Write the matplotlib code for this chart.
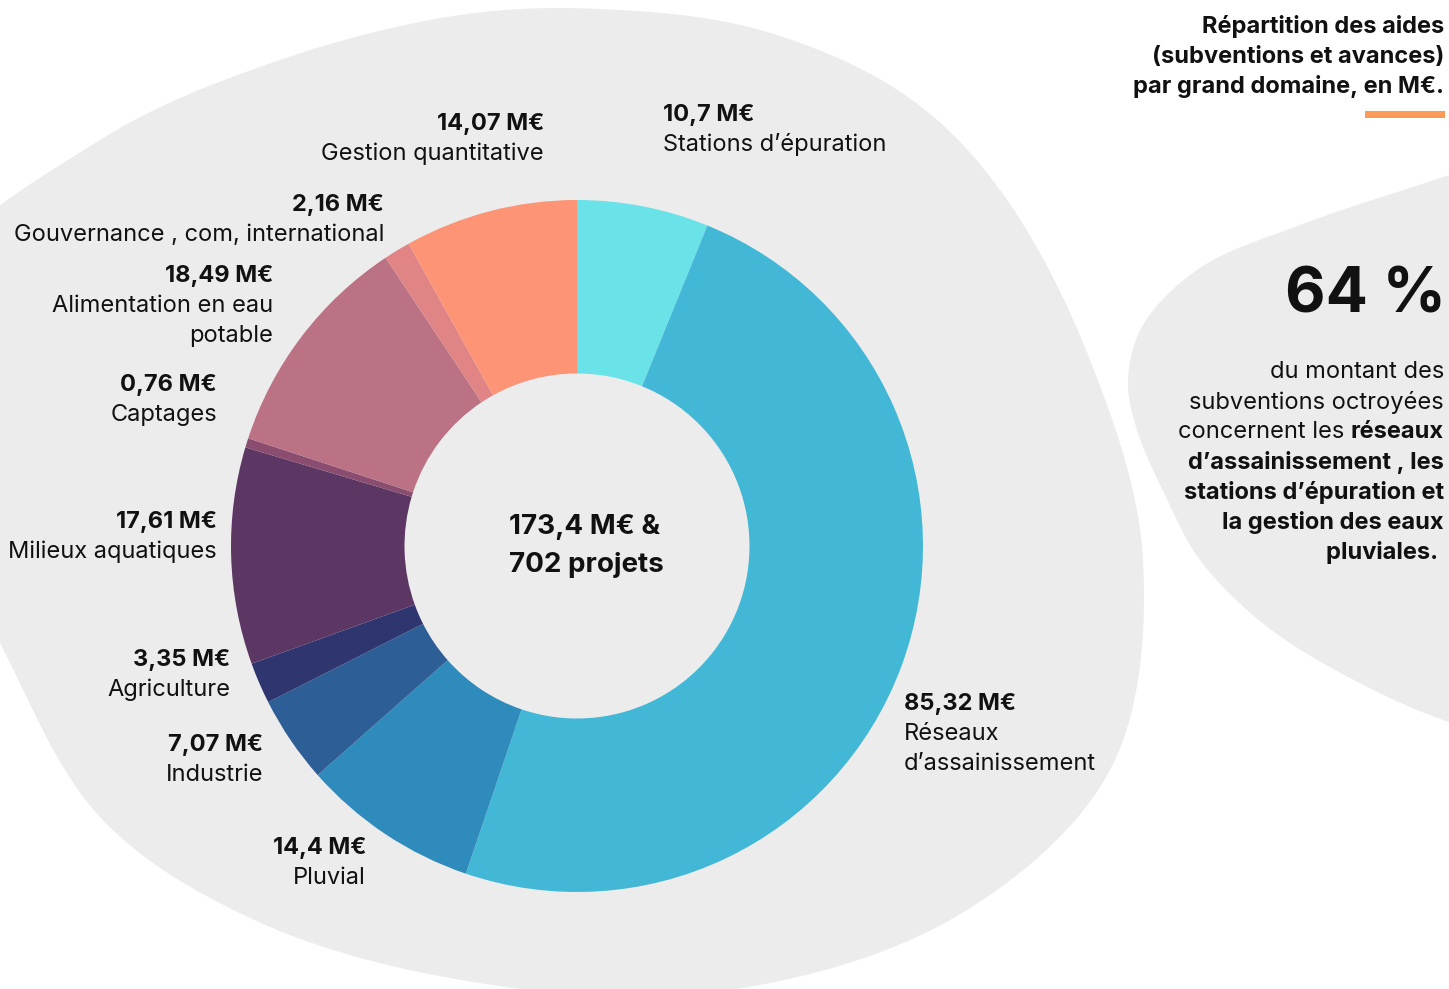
import numpy as np
import matplotlib
matplotlib.use("Agg")
import matplotlib.pyplot as plt
from matplotlib.patches import PathPatch, Rectangle
from matplotlib.path import Path

# ---------------- data ----------------
categories = ["Stations d’épuration", "Réseaux d’assainissement", "Pluvial", "Industrie",
              "Agriculture", "Milieux aquatiques", "Captages", "Alimentation en eau potable",
              "Gouvernance , com, international", "Gestion quantitative"]
values = [10.7, 85.32, 14.4, 7.07, 3.35, 17.61, 0.76, 18.49, 2.16, 14.07]
value_labels = ["10,7 M€", "85,32 M€", "14,4 M€", "7,07 M€", "3,35 M€", "17,61 M€",
                "0,76 M€", "18,49 M€", "2,16 M€", "14,07 M€"]
name_lines = [["Stations d’épuration"], ["Réseaux", "d’assainissement"], ["Pluvial"],
              ["Industrie"], ["Agriculture"], ["Milieux aquatiques"], ["Captages"],
              ["Alimentation en eau", "potable"], ["Gouvernance , com, international"],
              ["Gestion quantitative"]]
colors = ["#6ae3e8", "#42b7d6", "#2e8bbb", "#2e5e96", "#2f356f", "#5d3764",
          "#8a4d70", "#bb7284", "#e08486", "#fd9476"]
center_text = ["173,4 M€ &", "702 projets"]
title_lines = ["Répartition des aides", "(subventions et avances)", "par grand domaine, en M€."]
big_number = "64 %"

W, H = 1449, 989
FONT = "Inter"
INK = "#111111"
GREY = "#ececec"

fig = plt.figure(figsize=(W / 100, H / 100), dpi=100)
ax = fig.add_axes([0, 0, 1, 1])


def Y(y):
    return H - y


def smooth_closed(pts, n=60, alpha=0.5):
    """Centripetal Catmull-Rom closed curve through pts (pixel coords, y down)."""
    P = np.array(pts, dtype=float)
    m = len(P)
    out = []
    for i in range(m):
        p0, p1, p2, p3 = P[(i - 1) % m], P[i], P[(i + 1) % m], P[(i + 2) % m]
        t0 = 0.0
        t1 = t0 + np.linalg.norm(p1 - p0) ** alpha
        t2 = t1 + np.linalg.norm(p2 - p1) ** alpha
        t3 = t2 + np.linalg.norm(p3 - p2) ** alpha
        t = np.linspace(t1, t2, n, endpoint=False)[:, None]
        A1 = (t1 - t) / (t1 - t0) * p0 + (t - t0) / (t1 - t0) * p1
        A2 = (t2 - t) / (t2 - t1) * p1 + (t - t1) / (t2 - t1) * p2
        A3 = (t3 - t) / (t3 - t2) * p2 + (t - t2) / (t3 - t2) * p3
        B1 = (t2 - t) / (t2 - t0) * A1 + (t - t0) / (t2 - t0) * A2
        B2 = (t3 - t) / (t3 - t1) * A2 + (t - t1) / (t3 - t1) * A3
        C = (t2 - t) / (t2 - t1) * B1 + (t - t1) / (t2 - t1) * B2
        out.append(C)
    out = np.vstack(out)
    out[:, 1] = H - out[:, 1]
    return out


main_blob = [(-90, 300), (100, 140), (280, 60), (460, 15), (600, 9), (760, 30), (905, 95),
             (1000, 190), (1090, 360), (1143, 560), (1110, 770), (950, 920), (700, 994),
             (450, 978), (250, 918), (100, 817), (0, 643), (-80, 470)]
right_blob = [(1520, 150), (1449, 175), (1300, 225), (1200, 268), (1143, 325), (1128, 380),
              (1137, 430), (1165, 495), (1200, 560), (1265, 625), (1350, 678), (1449, 722),
              (1530, 740), (1560, 450)]
for blob in (main_blob, right_blob):
    v = smooth_closed(blob)
    ax.add_patch(PathPatch(Path(np.vstack([v, v[:1]]), closed=True), fc=GREY, ec="none", zorder=0))

# ---------------- donut ----------------
cx, cy, R = 577, 546, 346
ax.pie(values, colors=colors, startangle=90, counterclock=False, center=(cx, Y(cy)),
       radius=R, wedgeprops=dict(width=R - 172.5, edgecolor="none", linewidth=0), frame=True)
ax.set_xlim(0, W)
ax.set_ylim(0, H)
ax.set_aspect("auto")
ax.axis("off")

# ---------------- labels ----------------
FS = 17
label_pos = [(663, 115, "left"), (904, 704, "left"), (366, 848, "right"), (263, 745, "right"),
             (230, 660, "right"), (217, 522, "right"), (217, 385, "right"), (273, 276, "right"),
             (384, 205, "right"), (544, 124, "right")]
for (x, y, ha), vl, names in zip(label_pos, value_labels, name_lines):
    ax.text(x, Y(y), vl, ha=ha, va="center", fontsize=FS, fontweight="bold", family=FONT, color=INK)
    for k, nm in enumerate(names):
        ax.text(x, Y(y + 30 * (k + 1)), nm, ha=ha, va="center", fontsize=FS, family=FONT, color=INK)

for k, t in enumerate(center_text):
    ax.text(509, Y(527 + 38 * k), t, ha="left", va="center", fontsize=20, fontweight="bold",
            family=FONT, color=INK)

# ---------------- title ----------------
for k, t in enumerate(title_lines):
    ax.text(1444, Y(27 + 30 * k), t, ha="right", va="center", fontsize=17, fontweight="bold",
            family=FONT, color=INK)
ax.add_patch(Rectangle((1365, Y(118)), 80, 7, fc="#fd9a55", ec="none"))

ax.text(1446, Y(296), big_number, ha="right", va="center", fontsize=45, fontweight="bold",
        family=FONT, color=INK)

para = [[("du montant des", "normal")],
        [("subventions octroyées", "normal")],
        [("concernent les ", "normal"), ("réseaux", "bold")],
        [("d’assainissement , les", "bold")],
        [("stations d’épuration et", "bold")],
        [("la gestion des eaux", "bold")],
        [("pluviales. ", "bold")]]
fig.canvas.draw()
renderer = fig.canvas.get_renderer()
for k, parts in enumerate(para):
    xr = 1444
    for txt, w in reversed(parts):
        t = ax.text(xr, Y(372 + 30 * k), txt, ha="right", va="center", fontsize=17,
                    fontweight=w, family=FONT, color=INK)
        bb = t.get_window_extent(renderer)
        xr -= bb.width

fig.savefig("out.png", dpi=100, facecolor="white")
